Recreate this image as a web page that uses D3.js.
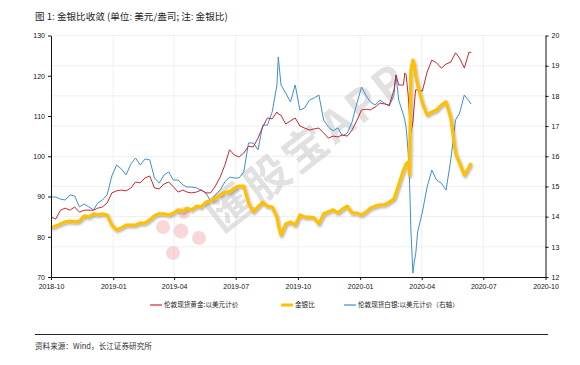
<!DOCTYPE html>
<html><head><meta charset="utf-8">
<script src="https://cdn.jsdelivr.net/npm/d3@7"></script>
<style>
html,body{margin:0;padding:0;background:#fff;}
svg{display:block;}
</style></head>
<body>
<svg id="chart" width="580" height="365"></svg>
<script>
// ---------- DATA ----------
const dates = [
"2018-10-01","2018-10-08","2018-10-15","2018-10-22","2018-10-29",
"2018-11-05","2018-11-12","2018-11-19","2018-11-26",
"2018-12-03","2018-12-09","2018-12-16","2018-12-23","2018-12-30",
"2019-01-06","2019-01-13","2019-01-20","2019-01-27",
"2019-02-03","2019-02-10","2019-02-17","2019-02-24",
"2019-03-03","2019-03-10","2019-03-17","2019-03-24",
"2019-03-31","2019-04-07","2019-04-14","2019-04-20","2019-04-27",
"2019-05-04","2019-05-11","2019-05-18","2019-05-25",
"2019-06-01","2019-06-08","2019-06-15","2019-06-22",
"2019-06-29","2019-07-06","2019-07-13","2019-07-20","2019-07-27",
"2019-08-03","2019-08-10","2019-08-17","2019-08-24",
"2019-08-31","2019-09-02","2019-09-06","2019-09-13","2019-09-20","2019-09-27",
"2019-10-04","2019-10-11","2019-10-18","2019-10-25",
"2019-11-01","2019-11-08","2019-11-15","2019-11-22",
"2019-11-29","2019-12-06","2019-12-13","2019-12-20","2019-12-27",
"2020-01-03","2020-01-10","2020-01-16","2020-01-23",
"2020-01-30","2020-02-06","2020-02-13","2020-02-20","2020-02-23",
"2020-02-27","2020-03-05","2020-03-07","2020-03-09","2020-03-12","2020-03-13","2020-03-14","2020-03-15","2020-03-16","2020-03-19","2020-03-21","2020-03-23","2020-03-26",
"2020-04-02","2020-04-09","2020-04-16","2020-04-23",
"2020-04-30","2020-05-07","2020-05-14","2020-05-21",
"2020-05-27","2020-06-03","2020-06-10","2020-06-13"
];
// 伦敦现货黄金:以美元计价 (left axis)
const gold = [
84.9,84.4,86.6,87.1,86.6,
87.4,86.1,86.6,86.6,
86.6,87.1,87.4,88.4,90.9,
91.4,91.6,91.4,92.1,
93.6,93.4,94.6,95.1,
92.1,91.9,93.1,93.6,
92.4,91.1,91.6,91.1,90.9,
91.1,91.6,90.9,90.9,
92.6,94.8,97.8,101.6,
100.3,99.8,100.8,102.5,102.3,
104.5,107.3,109.5,109.3,
111.0,110.5,110.2,108.0,108.8,109.5,
107.5,107.0,106.5,106.8,
107.0,105.8,104.5,105.0,
104.8,105.3,105.0,106.5,108.8,
111.5,111.7,111.5,112.2,
113.2,113.0,112.7,116.5,120.2,
117.7,117.7,120.7,120.2,115.2,112.7,109.8,107.8,105.8,108.5,112.7,116.5,116.5,
116.2,120.9,123.9,123.2,
121.9,122.9,123.4,125.7,
124.4,121.9,125.9,125.7
];
// 金银比 (left axis)
const ratio = [
82.2,82.7,83.2,83.7,83.9,
83.7,83.9,85.2,84.9,
85.7,85.4,85.7,85.4,82.9,
81.7,82.2,82.9,82.9,
82.9,83.4,83.4,84.2,
85.2,85.7,85.7,85.4,
85.9,86.7,86.2,87.1,86.7,
87.6,87.4,88.6,88.9,
89.6,90.4,91.1,91.1,
92.1,92.6,92.6,88.4,86.2,
87.4,88.6,87.6,87.4,
84.9,82.9,80.4,83.2,83.7,82.9,
85.4,84.9,84.9,84.7,
83.2,85.7,86.2,86.7,
85.9,86.9,87.6,85.9,85.9,
85.4,86.2,87.1,87.6,
87.9,87.9,88.6,89.4,90.9,
92.9,96.6,97.3,98.1,98.6,97.1,95.3,109.0,121.4,123.9,122.7,120.2,117.7,
113.2,110.3,111.0,111.5,
112.7,113.5,109.5,100.8,
98.3,95.3,97.3,98.3
];
// 伦敦现货白银:以美元计价 (right axis)
const silver = [
14.65,14.65,14.58,14.55,14.72,
14.68,14.32,14.42,14.32,
14.22,14.45,14.55,14.72,15.35,
15.71,15.58,15.38,15.74,
15.94,15.71,15.91,15.88,
15.28,15.11,15.38,15.48,
15.21,15.21,15.05,14.98,14.98,
14.95,14.88,14.78,14.52,
14.72,14.88,15.15,15.31,
15.28,15.28,15.48,16.44,16.44,
16.21,17.03,17.03,17.47,
18.36,19.29,18.36,18.09,17.80,18.36,
17.53,17.60,17.86,17.93,
18.03,17.20,16.97,16.84,
16.94,16.67,16.77,17.13,17.73,
18.29,18.00,17.80,17.70,
17.86,17.76,17.66,18.03,18.69,
17.86,17.37,17.20,16.94,16.14,15.71,15.21,14.38,13.56,12.13,12.50,12.73,13.49,
14.15,14.98,15.54,15.21,
15.11,14.88,15.88,17.20,
17.43,18.03,17.83,17.73
];
const xTickLabels = ["2018-10","2019-01","2019-04","2019-07","2019-10","2020-01","2020-04","2020-07","2020-10"];
const leftTicks = [70,80,90,100,110,120,130];
const rightTicks = [12,13,14,15,16,17,18,19,20];
const seriesNames = ["伦敦现货黄金:以美元计价","金银比","伦敦现货白银:以美元计价（右轴）"];
const titleText = "图 1: 金银比收敛 (单位: 美元/盎司; 注: 金银比)";
const sourceText = "资料来源：Wind，长江证券研究所";

// ---------- CHART ----------
const svg = d3.select("#chart");
const parse = d3.timeParse("%Y-%m-%d");
const parseM = d3.timeParse("%Y-%m");
const dts = dates.map(parse);
const X0 = 51, X1 = 545.5, Y0 = 277, Y1 = 35.5;
const x = d3.scaleTime().domain([parseM("2018-10"), parseM("2020-10")]).range([X0, X1]);
const yL = d3.scaleLinear().domain([70,130]).range([Y0, Y1]);
const yR = d3.scaleLinear().domain([12,20]).range([Y0, Y1]);
const tickDates = xTickLabels.map(parseM);

const CJK = "'Noto Sans CJK SC','Noto Sans',sans-serif";
const NUM = "'Liberation Sans Narrow','Arial Narrow','Liberation Sans',Arial,sans-serif";

const defs = svg.append("defs");
const f = defs.append("filter").attr("id","sh").attr("x","-5%").attr("y","-5%").attr("width","110%").attr("height","110%");
f.append("feDropShadow").attr("dx",1).attr("dy",1.5).attr("stdDeviation",0.9)
 .attr("flood-color","#444").attr("flood-opacity",0.45);

// title
svg.append("text").attr("x",35).attr("y",20).text(titleText)
  .attr("font-family",CJK).attr("font-size",9.6).attr("fill","#222");

// grid
const grid = svg.append("g");
grid.selectAll("line.h").data(rightTicks.slice(1)).join("line")
  .attr("x1",X0).attr("x2",X1).attr("y1",d=>yR(d)).attr("y2",d=>yR(d))
  .attr("stroke","#ebebeb").attr("stroke-width",0.8);
grid.selectAll("line.v").data(tickDates.slice(1,-1)).join("line")
  .attr("x1",d=>x(d)).attr("x2",d=>x(d)).attr("y1",Y1).attr("y2",Y0)
  .attr("stroke","#ebebeb").attr("stroke-width",0.8);

// watermark
const wm = svg.append("g").attr("opacity",0.45);
[[163,227,7],[181,231,7.5],[199,238,7],[173,253,7],[184,213,6]].forEach(c=>{
  wm.append("circle").attr("cx",c[0]).attr("cy",c[1]).attr("r",c[2]).attr("fill","#f2a8ab");
});
wm.append("text").attr("transform","translate(222,234) rotate(-38)")
  .attr("font-family",CJK).attr("font-size",44).attr("font-weight","bold")
  .attr("fill","#bdbdbd").attr("letter-spacing",4).text("匯股宝APP");

// lines
const pts = arr => arr.map((v,i)=>[dts[i],v]);
const lineL = d3.line().x(d=>x(d[0])).y(d=>yL(d[1]));
const lineR = d3.line().x(d=>x(d[0])).y(d=>yR(d[1]));
svg.append("path").datum(pts(silver)).attr("d",lineR)
  .attr("fill","none").attr("stroke","#3e8fd4").attr("stroke-width",1).attr("stroke-linejoin","round");
svg.append("path").datum(pts(gold)).attr("d",lineL)
  .attr("fill","none").attr("stroke","#c8282e").attr("stroke-width",1).attr("stroke-linejoin","round");
svg.append("path").datum(pts(ratio)).attr("d",lineL)
  .attr("fill","none").attr("stroke","#ffc000").attr("stroke-width",3.2).attr("stroke-linejoin","round")
  .attr("filter","url(#sh)");

// axes
function styleAxis(g){
  g.select(".domain").attr("stroke","#111").attr("stroke-width",1);
  g.selectAll(".tick line").attr("stroke","#111");
  g.selectAll(".tick text").attr("font-family",NUM).attr("font-size",7).attr("fill","#111");
}
svg.append("g").attr("transform",`translate(${X0},0)`)
  .call(d3.axisLeft(yL).tickValues(leftTicks).tickSize(3).tickPadding(3).tickSizeOuter(0))
  .call(styleAxis);
svg.append("g").attr("transform",`translate(${X1},0)`)
  .call(d3.axisRight(yR).tickValues(rightTicks).tickSize(3).tickPadding(3).tickSizeOuter(0))
  .call(styleAxis);
svg.append("g").attr("transform",`translate(0,${Y0})`)
  .call(d3.axisBottom(x).tickValues(tickDates).tickFormat(d3.timeFormat("%Y-%m")).tickSize(3).tickPadding(4).tickSizeOuter(0))
  .call(styleAxis);

// legend
const legend = [
  {name:seriesNames[0], color:"#c8282e", w:1.2, x:150},
  {name:seriesNames[1], color:"#ffc000", w:3, x:281},
  {name:seriesNames[2], color:"#3e8fd4", w:1.2, x:344}
];
const lg = svg.append("g");
legend.forEach(l=>{
  lg.append("line").attr("x1",l.x).attr("x2",l.x+12).attr("y1",305).attr("y2",305)
    .attr("stroke",l.color).attr("stroke-width",l.w);
  lg.append("text").attr("x",l.x+14).attr("y",307.3).text(l.name)
    .attr("font-family",CJK).attr("font-size",6.6).attr("fill","#222");
});

// source
svg.append("line").attr("x1",35).attr("x2",548).attr("y1",334.5).attr("y2",334.5)
  .attr("stroke","#222").attr("stroke-width",1);
svg.append("text").attr("x",35).attr("y",349).text(sourceText)
  .attr("font-family",CJK).attr("font-size",7.6).attr("fill","#333");
</script>
</body></html>
